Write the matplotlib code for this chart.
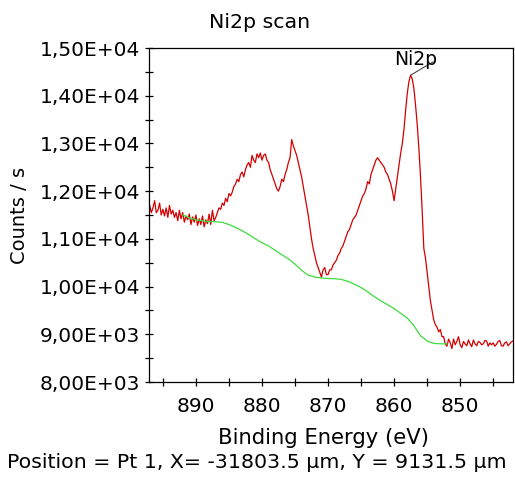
import numpy as np
import matplotlib
matplotlib.use("Agg")
import matplotlib.pyplot as plt
from matplotlib.ticker import MultipleLocator, FuncFormatter

# Binding energy grid (eV) for the measured spectrum, 0.25 eV steps
energy = np.arange(897.0, 841.99, -0.25)
counts = [
    11700, 11550, 11650, 11800, 11550, 11600, 11750, 11500, 11620, 11480,
    11650, 11450, 11700, 11520, 11600, 11450, 11550, 11380, 11600, 11420,
    11550, 11350, 11480, 11400, 11520, 11300, 11460, 11350, 11500, 11280,
    11420, 11300, 11480, 11250, 11400, 11320, 11520, 11300, 11600, 11380,
    11450, 11550, 11650, 11620, 11750, 11700, 11850, 11780, 11950, 11900,
    11980, 12100, 12150, 12250, 12200, 12350, 12400, 12300, 12450, 12550,
    12600, 12500, 12750, 12650, 12600, 12780, 12700, 12800, 12650, 12750,
    12780, 12650, 12600, 12450, 12350, 12250, 12150, 12050, 12000, 12100,
    12250, 12200, 12350, 12450, 12600, 12700, 13080, 12950, 12850, 12750,
    12600, 12450, 12300, 12100, 11900, 11700, 11500, 11250, 11000, 10800,
    10650, 10500, 10400, 10300, 10200, 10350, 10400, 10250, 10250, 10350,
    10350, 10450, 10500, 10550, 10650, 10700, 10800, 10850, 10950, 11050,
    11150, 11200, 11300, 11400, 11450, 11500, 11600, 11700, 11800, 11900,
    11950, 12050, 12200, 12150, 12350, 12450, 12550, 12650, 12700, 12650,
    12600, 12550, 12500, 12400, 12350, 12250, 12150, 12000, 11800, 12050,
    12300, 12550, 12800, 13000, 13300, 13700, 14050, 14300, 14430, 14350,
    14150, 13800, 13400, 12900, 12300, 11600, 10800, 10600, 10300, 10000,
    9700, 9500, 9300, 9200, 9150, 9050, 9100, 8950, 8950, 8800,
    8750, 8900, 8820, 8700, 8900, 8780, 8850, 8950, 8780, 8720,
    8850, 8800, 8760, 8880, 8800, 8740, 8880, 8800, 8760, 8850,
    8830, 8780, 8800, 8870, 8860, 8750, 8820, 8780, 8820, 8750,
    8790, 8850, 8870, 8760, 8750, 8820, 8840, 8760, 8800, 8840,
    8860,
]

bg_energy = [892, 891, 890, 889, 888, 887, 886, 885, 884, 883, 882, 881, 880,
             879, 878, 877, 876, 875, 874, 873, 872, 871, 870, 869, 868, 867,
             866, 865, 864, 863, 862, 861, 860, 859, 858, 857, 856, 855, 854,
             853, 852]
bg_counts = [11500, 11440, 11400, 11380, 11360, 11360, 11345, 11300, 11240,
             11170, 11090, 11000, 10920, 10850, 10760, 10670, 10580, 10470,
             10340, 10240, 10200, 10180, 10170, 10165, 10150, 10110, 10050,
             9980, 9890, 9790, 9700, 9620, 9540, 9440, 9340, 9180, 8970,
             8860, 8810, 8800, 8800]

peak_label = "Ni2p"
peak_pos = (857.5, 14430)
label_pos = (856.8, 14760)

W, H = 515, 484
fig = plt.figure(figsize=(W / 100, H / 100), dpi=100)
ax = fig.add_axes([149 / W, 1 - 382 / H, (513 - 149) / W, (382 - 48) / H])

ax.plot(energy, counts, color="#d40000", lw=0.9)
ax.plot(bg_energy, bg_counts, color="#3ddc3d", lw=0.9)

ax.set_xlim(897.1, 842.0)
ax.set_ylim(8000, 15000)

ax.xaxis.set_major_locator(MultipleLocator(10))
ax.xaxis.set_minor_locator(MultipleLocator(5))
ax.yaxis.set_major_locator(MultipleLocator(1000))
ax.yaxis.set_minor_locator(MultipleLocator(500))


def yfmt(v, pos):
    s = "%.2E" % v
    return s.replace(".", ",")


ax.yaxis.set_major_formatter(FuncFormatter(yfmt))
ax.xaxis.set_major_formatter(FuncFormatter(lambda v, p: "%d" % v))

ax.tick_params(which="both", direction="inout", length=6, width=0.9,
               labelsize=14.5, colors="black")
ax.tick_params(axis="x", pad=8)
for s in ax.spines.values():
    s.set_linewidth(0.9)

# peak annotation
ax.plot([peak_pos[0], 854.1], [peak_pos[1], 14710], color="#333333", lw=0.7,
        clip_on=False)
ax.text(label_pos[0], label_pos[1], peak_label, ha="center", va="center",
        fontsize=13.5)

fig.text(260 / W, 1 - 23 / H, "Ni2p scan", ha="center", va="center",
         fontsize=14.75)
fig.text(20 / W, 1 - 215 / H, "Counts / s", ha="center", va="center",
         rotation=90, fontsize=14)
fig.text(323 / W, 1 - 438 / H, "Binding Energy (eV)", ha="center",
         va="center", fontsize=15.25)
fig.text(257 / W, 1 - 462 / H,
         "Position = Pt 1, X= -31803.5 \u00b5m, Y = 9131.5 \u00b5m",
         ha="center", va="center", fontsize=14.75)

fig.savefig("out.png", dpi=100)
